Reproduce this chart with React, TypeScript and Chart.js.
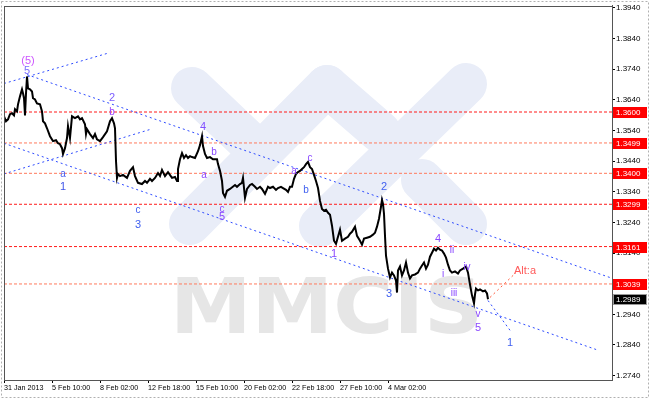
import React, { useEffect, useRef } from 'react';
import { Chart, registerables } from 'chart.js';
Chart.register(...registerables);

// ---- data ----
const xTickValues = [0, 48, 96, 144, 192, 240, 288, 336, 384];
const xTickLabels = ['31 Jan 2013', '5 Feb 10:00', '8 Feb 02:00', '12 Feb 18:00', '15 Feb 10:00', '20 Feb 02:00', '22 Feb 18:00', '27 Feb 10:00', '4 Mar 02:00'];
const yTickValues = [1.274, 1.284, 1.294, 1.304, 1.314, 1.324, 1.334, 1.344, 1.354, 1.364, 1.374, 1.384, 1.394];
const yMin = 1.27257;
const yMax = 1.39465;
const xMax = 608;

const barIndex = [
  0, 2, 4, 6, 8, 10, 11, 13, 14, 16, 18, 19, 20, 21, 22, 23, 24, 26, 28, 29, 31, 33, 36, 38, 39, 41, 43, 46, 49, 52,
  54, 56, 58, 59, 61, 63, 64, 66, 68, 71, 74, 76, 78, 81, 82, 83, 86, 89, 91, 93, 96, 99, 103, 106, 108, 110, 111, 112, 113, 114,
  116, 119, 123, 126, 129, 131, 134, 138, 141, 143, 146, 148, 151, 154, 156, 158, 161, 164, 168, 171, 173, 174, 176, 178, 180, 182, 184, 186, 188, 191,
  194, 196, 198, 199, 201, 203, 206, 209, 213, 214, 216, 218, 219, 221, 223, 226, 231, 233, 236, 238, 239, 241, 243, 246, 248, 251, 253, 256, 258, 261,
  264, 266, 269, 272, 274, 277, 279, 282, 284, 286, 288, 290, 292, 294, 296, 298, 300, 302, 304, 306, 308, 310, 312, 314, 316, 318, 320, 322, 324, 326,
  328, 330, 332, 334, 336, 338, 341, 344, 346, 348, 351, 353, 356, 358, 360, 363, 366, 369, 371, 373, 375, 377, 378, 379, 380, 381, 382, 384, 386, 388,
  390, 392, 393, 394, 396, 398, 400, 402, 404, 406, 408, 411, 414, 416, 418, 420, 422, 424, 426, 428, 430, 432, 434, 436, 438, 440, 442, 444, 446, 448,
  451, 454, 456, 459, 462, 464, 466, 468, 470, 471, 472, 474, 476, 479, 481, 483, 484
];
const closePrice = [
  1.3586, 1.3570, 1.3576, 1.3593, 1.3596, 1.3589, 1.3609, 1.3602, 1.3625, 1.3651, 1.3674, 1.3661, 1.3645, 1.3589, 1.3661, 1.3716, 1.3677, 1.3674, 1.3667, 1.3645, 1.3641, 1.3628, 1.3625, 1.3602, 1.3570, 1.3563, 1.3547, 1.3521, 1.3505, 1.3508,
  1.3498, 1.3495, 1.3482, 1.3463, 1.3482, 1.3515, 1.3554, 1.3515, 1.3586, 1.3580, 1.3586, 1.3576, 1.3580, 1.3560, 1.3528, 1.3544, 1.3528, 1.3515, 1.3528, 1.3511, 1.3505, 1.3518, 1.3537, 1.3570, 1.3580, 1.3563, 1.3547, 1.3440, 1.3385, 1.3398,
  1.3391, 1.3395, 1.3385, 1.3408, 1.3420, 1.3391, 1.3369, 1.3365, 1.3375, 1.3369, 1.3382, 1.3375, 1.3385, 1.3401, 1.3391, 1.3411, 1.3391, 1.3404, 1.3385, 1.3388, 1.3375, 1.3414, 1.3446, 1.3466, 1.3450, 1.3459, 1.3450, 1.3456, 1.3453, 1.3450,
  1.3472, 1.3492, 1.3521, 1.3489, 1.3463, 1.3450, 1.3453, 1.3446, 1.3446, 1.3430, 1.3408, 1.3375, 1.3336, 1.3323, 1.3343, 1.3349, 1.3362, 1.3356, 1.3365, 1.3369, 1.3385, 1.3320, 1.3349, 1.3362, 1.3365, 1.3356, 1.3349, 1.3356, 1.3349, 1.3333,
  1.3356, 1.3352, 1.3356, 1.3346, 1.3352, 1.3356, 1.3352, 1.3346, 1.3339, 1.3356, 1.3356, 1.3382, 1.3398, 1.3404, 1.3408, 1.3414, 1.3420, 1.3430, 1.3437, 1.3420, 1.3414, 1.3395, 1.3375, 1.3352, 1.3310, 1.3284, 1.3278, 1.3281, 1.3271, 1.3265,
  1.3229, 1.3180, 1.3170, 1.3193, 1.3216, 1.3180, 1.3187, 1.3193, 1.3203, 1.3209, 1.3226, 1.3196, 1.3180, 1.3167, 1.3187, 1.3190, 1.3193, 1.3200, 1.3206, 1.3226, 1.3252, 1.3291, 1.3313, 1.3300, 1.3268, 1.3196, 1.3131, 1.3089, 1.3060, 1.3076,
  1.3067, 1.3050, 1.3011, 1.3083, 1.3096, 1.3067, 1.3083, 1.3109, 1.3076, 1.3057, 1.3067, 1.3070, 1.3076, 1.3089, 1.3099, 1.3109, 1.3089, 1.3102, 1.3128, 1.3141, 1.3154, 1.3148, 1.3157, 1.3151, 1.3148, 1.3138, 1.3125, 1.3102, 1.3083, 1.3076,
  1.3080, 1.3073, 1.3083, 1.3089, 1.3096, 1.3076, 1.3037, 1.3002, 1.2976, 1.3005, 1.3024, 1.3018, 1.3021, 1.3015, 1.3018, 1.3008, 1.2989
];
const lastPrice = 1.2989;

const levelValues = [1.36, 1.3499, 1.34, 1.3299, 1.3161, 1.3039];
const levelColors = ['#ff1a1a', '#ff7a5c', '#ff7a5c', '#ff1a1a', '#ff1a1a', '#ff7a5c'];

const trendStartX = [0, 23, 0, 0, 484, 486];
const trendStartP = [1.3693, 1.3722, 1.3498, 1.3398, 1.2985, 1.2995];
const trendEndX = [103, 606, 594, 147, 506, 512];
const trendEndP = [1.3791, 1.3060, 1.2823, 1.3544, 1.2888, 1.3076];
const trendColors = ['#2f4cff', '#2f4cff', '#2f4cff', '#2f4cff', '#2f4cff', '#ff5a3c'];

const waveText = ['(5)', '5', '2', 'b', 'a', '1', '4', 'b', 'a', 'c', '3', 'c', '5', 'a', 'c', 'b', '2', '1', '3', '4', 'ii', 'i', 'iv', 'iii', 'v', '5', '1', 'Alt:a'];
const waveX = [24, 23, 108, 108, 59, 59, 199, 210, 200, 134, 134, 218, 218, 290, 306, 302, 380, 330, 385, 434, 448, 439, 463, 450, 474, 474, 506, 521];
const waveP = [1.3768, 1.3735, 1.3645, 1.3599, 1.3398, 1.3356, 1.3550, 1.3469, 1.3395, 1.3278, 1.3232, 1.3284, 1.3258, 1.3408, 1.3450, 1.3346, 1.3356, 1.3138, 1.3008, 1.3187, 1.3148, 1.3070, 1.3093, 1.3008, 1.2940, 1.2894, 1.2846, 1.3083];
const waveColors = ['#cc55ff', '#7a6cff', '#7a5cff', '#9a40ff', '#4a5cf0', '#3f55e8', '#8050ff', '#8a48ff', '#8a48ff', '#4060f0', '#4060f0', '#8a48ff', '#8a48ff', '#8a48ff', '#8a48ff', '#4060f0', '#4060f0', '#8a48ff', '#4060f0', '#8a48ff', '#8a48ff', '#8a48ff', '#8a48ff', '#8a48ff', '#8a48ff', '#8a48ff', '#4060f0', '#ff5a5a'];

const FONT = '"Liberation Sans", Arial, sans-serif';

const decorPlugin = {
  id: 'decor',
  beforeDraw(chart: any) {
    const ctx = chart.ctx;
    ctx.save();
    ctx.fillStyle = '#ffffff';
    ctx.fillRect(0, 0, chart.width, chart.height);
    ctx.setLineDash([2, 2]);
    ctx.strokeStyle = '#b0b0b0';
    ctx.lineWidth = 1;
    ctx.strokeRect(1.5, 1.5, chart.width - 3, chart.height - 3);
    ctx.restore();
  },
  beforeDatasetsDraw(chart: any) {
    const ctx = chart.ctx;
    const a = chart.chartArea;
    ctx.save();
    ctx.beginPath();
    ctx.rect(a.left, a.top, a.right - a.left, a.bottom - a.top);
    ctx.clip();
    ctx.strokeStyle = '#e9edf8';
    ctx.lineWidth = 42;
    ctx.lineCap = 'round';
    const segs = [
      [192, 88, 252, 145],
      [190, 224, 327, 86],
      [327, 86, 380, 132],
      [320, 226, 466, 84],
      [422, 180, 466, 224]
    ];
    for (const s of segs) {
      ctx.beginPath();
      ctx.moveTo(s[0], s[1]);
      ctx.lineTo(s[2], s[3]);
      ctx.stroke();
    }
    ctx.fillStyle = '#e6e6e6';
    ctx.font = 'bold 76px "DejaVu Sans", sans-serif';
    const w = ctx.measureText('MMCIS').width;
    ctx.translate(170, 333);
    ctx.scale(313 / w, 1);
    ctx.textBaseline = 'alphabetic';
    ctx.fillText('MMCIS', 0, 0);
    ctx.restore();
  },
  afterDatasetsDraw(chart: any) {
    const ctx = chart.ctx;
    const xs = chart.scales.x;
    const ys = chart.scales.y;
    ctx.save();
    ctx.textAlign = 'center';
    ctx.textBaseline = 'middle';
    waveText.forEach((t, i) => {
      const digit = /[0-9(]/.test(t) || t === 'Alt:a';
      ctx.font = (digit ? '11px ' : '10px ') + FONT;
      ctx.fillStyle = waveColors[i];
      ctx.fillText(t, xs.getPixelForValue(waveX[i]), ys.getPixelForValue(waveP[i]));
    });
    ctx.restore();
  },
  afterDraw(chart: any) {
    const ctx = chart.ctx;
    const a = chart.chartArea;
    const ys = chart.scales.y;
    ctx.save();
    ctx.strokeStyle = '#555';
    ctx.lineWidth = 1;
    ctx.strokeRect(Math.round(a.left) + 0.5, Math.round(a.top) + 0.5, Math.round(a.right - a.left), Math.round(a.bottom - a.top));
    ctx.font = '8px ' + FONT;
    ctx.textAlign = 'left';
    ctx.textBaseline = 'middle';
    levelValues.forEach((v) => {
      const y = Math.round(ys.getPixelForValue(v));
      ctx.fillStyle = '#ff0000';
      ctx.fillRect(a.right + 1, y - 5, 34, 11);
      ctx.fillStyle = '#ffffff';
      ctx.fillText(v.toFixed(4), a.right + 4, y + 0.5);
    });
    const yl = Math.round(ys.getPixelForValue(lastPrice));
    ctx.fillStyle = '#000';
    ctx.fillRect(a.right + 1, yl - 5, 34, 11);
    ctx.strokeStyle = '#999';
    ctx.strokeRect(a.right + 1.5, yl - 4.5, 33, 10);
    ctx.fillStyle = '#fff';
    ctx.fillText(lastPrice.toFixed(4), a.right + 4, yl + 0.5);
    ctx.restore();
  }
};

export default function App() {
  const ref = useRef<HTMLCanvasElement>(null);
  useEffect(() => {
    const canvas = ref.current!;
    const datasets: any[] = [];
    datasets.push({
      label: 'EURUSD',
      data: barIndex.map((x, i) => ({ x, y: closePrice[i] })),
      borderColor: '#000000',
      borderWidth: 2,
      pointRadius: 0,
      tension: 0
    });
    trendStartX.forEach((x, i) => {
      datasets.push({
        label: 'trend' + i,
        data: [{ x, y: trendStartP[i] }, { x: trendEndX[i], y: trendEndP[i] }],
        borderColor: trendColors[i],
        borderWidth: 1,
        borderDash: [2, 3],
        pointRadius: 0
      });
    });
    levelValues.forEach((v, i) => {
      datasets.push({
        label: 'level' + v,
        data: [{ x: 0, y: v }, { x: xMax, y: v }],
        borderColor: levelColors[i],
        borderWidth: 1,
        borderDash: [3, 2],
        pointRadius: 0
      });
    });
    const chart = new Chart(canvas, {
      type: 'line',
      data: { datasets },
      plugins: [decorPlugin],
      options: {
        animation: false,
        responsive: false,
        devicePixelRatio: 1,
        layout: { padding: { left: 4, top: 4, right: 0, bottom: 0 } },
        plugins: { legend: { display: false }, tooltip: { enabled: false } },
        scales: {
          x: {
            type: 'linear',
            position: 'bottom',
            min: 0,
            max: xMax,
            afterBuildTicks: (s: any) => { s.ticks = xTickValues.map((v) => ({ value: v })); },
            afterFit: (s: any) => { s.height = 19; },
            ticks: {
              autoSkip: false,
              maxRotation: 0,
              minRotation: 0,
              align: 'start',
              padding: 1,
              color: '#000',
              font: { family: FONT, size: 7.2 },
              callback: (_v: any, i: number) => xTickLabels[i]
            },
            grid: { drawOnChartArea: false, drawTicks: true, tickLength: 3, color: '#000' },
            border: { display: true, color: '#555' }
          },
          y: {
            type: 'linear',
            position: 'right',
            min: yMin,
            max: yMax,
            afterBuildTicks: (s: any) => { s.ticks = yTickValues.map((v) => ({ value: v })); },
            afterFit: (s: any) => { s.width = 38; },
            ticks: {
              padding: 1,
              color: '#000',
              font: { family: FONT, size: 8 },
              callback: (v: any) => Number(v).toFixed(4)
            },
            grid: { drawOnChartArea: false, drawTicks: true, tickLength: 3, color: '#000' },
            border: { display: true, color: '#555' }
          }
        }
      } as any
    });
    return () => chart.destroy();
  }, []);
  return (
    <div style={{ position: 'fixed', left: 0, top: 0, width: 650, height: 399, background: '#fff' }}>
      <canvas ref={ref} width={650} height={399} style={{ display: 'block' }} />
    </div>
  );
}
